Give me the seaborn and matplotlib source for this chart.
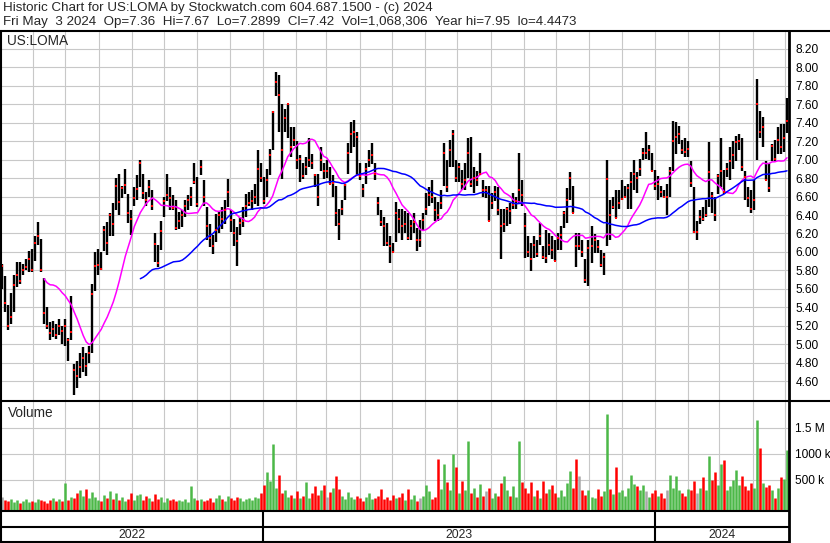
import numpy as np
import pandas as pd
import matplotlib
matplotlib.use("Agg")
import matplotlib.pyplot as plt
import matplotlib.dates as mdates
from matplotlib.lines import Line2D
import seaborn as sns

# ---- data (one bar per ~2 sessions) ----
highs = [
    5.87, 5.74, 5.42, 5.55, 5.75, 5.89, 5.89, 5.87, 5.92, 6.01,
    6.03, 6.17, 6.32, 6.14, 5.72, 5.40, 5.24, 5.25, 5.22, 5.27,
    5.20, 5.27, 5.07, 5.52, 4.78, 4.82, 4.90, 4.97, 4.90, 4.98,
    5.65, 6.00, 6.03, 6.00, 6.28, 6.32, 6.42, 6.53, 6.80, 6.85,
    6.72, 6.90, 6.63, 6.45, 6.70, 6.83, 7.00, 6.85, 6.65, 6.78,
    6.67, 6.20, 6.07, 6.33, 6.60, 6.85, 6.70, 6.62, 6.56, 6.43,
    6.45, 6.56, 6.62, 6.70, 6.96, 6.81, 7.00, 6.78, 6.49, 6.30,
    6.18, 6.41, 6.43, 6.49, 6.56, 6.79, 6.45, 6.36, 6.27, 6.38,
    6.49, 6.63, 6.65, 6.67, 6.74, 7.10, 6.96, 6.81, 6.90, 7.12,
    7.53, 7.95, 7.92, 7.60, 7.55, 7.60, 7.35, 7.35, 7.20, 7.05,
    6.96, 7.03, 7.24, 7.06, 6.85, 6.85, 7.14, 6.96, 7.00, 6.92,
    6.83, 6.71, 6.46, 6.56, 6.74, 7.18, 7.41, 7.43, 7.30, 6.96,
    6.74, 6.96, 7.10, 7.18, 6.96, 6.60, 6.45, 6.38, 6.31, 6.17,
    6.10, 6.54, 6.46, 6.46, 6.44, 6.42, 6.35, 6.42, 6.26, 6.35,
    6.42, 6.64, 6.70, 6.78, 6.60, 6.54, 6.67, 7.18, 7.00, 7.21,
    7.32, 7.00, 6.96, 6.89, 6.96, 7.23, 7.25, 6.92, 6.88, 7.07,
    6.78, 6.71, 6.71, 6.64, 6.72, 6.70, 6.46, 6.46, 6.49, 6.53,
    6.64, 6.60, 7.07, 6.78, 6.42, 6.17, 6.10, 6.17, 6.13, 6.31,
    6.06, 6.24, 6.20, 6.17, 6.13, 6.20, 6.28, 6.44, 6.69, 6.87,
    6.72, 6.20, 6.20, 6.13, 5.92, 6.13, 6.28, 6.19, 6.13, 6.02,
    5.99, 7.00, 6.56, 6.60, 6.67, 6.67, 6.78, 6.71, 6.74, 6.87,
    7.00, 6.87, 7.01, 7.13, 7.30, 7.16, 7.07, 6.89, 6.82, 6.71,
    6.67, 6.74, 6.92, 7.42, 7.41, 7.37, 7.21, 7.23, 7.20, 6.99,
    6.70, 6.33, 6.45, 6.49, 6.56, 7.19, 6.65, 6.60, 6.85, 7.24,
    6.89, 6.96, 7.14, 7.20, 7.26, 7.28, 7.24, 6.88, 6.70, 6.67,
    6.78, 7.87, 7.53, 7.46, 6.99, 6.96, 7.17, 7.21, 7.35, 7.39,
    7.39, 7.67,
]
lows = [
    5.60, 5.35, 5.15, 5.22, 5.35, 5.62, 5.65, 5.75, 5.80, 5.78,
    5.78, 5.90, 6.07, 5.78, 5.22, 5.16, 5.04, 5.08, 5.06, 5.10,
    5.00, 4.98, 4.82, 5.05, 4.45, 4.53, 4.63, 4.70, 4.66, 4.80,
    4.90, 5.58, 5.75, 5.80, 6.01, 5.97, 6.17, 6.17, 6.45, 6.40,
    6.58, 6.63, 6.31, 6.18, 6.50, 6.56, 6.70, 6.57, 6.50, 6.60,
    6.45, 5.89, 5.84, 6.02, 6.38, 6.55, 6.45, 6.45, 6.24, 6.25,
    6.27, 6.38, 6.45, 6.50, 6.74, 6.49, 6.83, 6.50, 6.13, 6.05,
    5.98, 6.11, 6.20, 6.25, 6.30, 6.49, 6.22, 6.06, 5.85, 6.18,
    6.27, 6.38, 6.50, 6.45, 6.52, 6.50, 6.76, 6.52, 6.60, 6.83,
    7.10, 7.69, 7.30, 6.79, 7.30, 7.24, 7.03, 7.15, 6.90, 6.76,
    6.79, 6.83, 6.92, 6.90, 6.70, 6.50, 6.88, 6.79, 6.80, 6.74,
    6.60, 6.28, 6.13, 6.40, 6.56, 6.85, 7.07, 7.14, 6.83, 6.78,
    6.60, 6.74, 6.92, 6.95, 6.78, 6.40, 6.28, 6.06, 6.06, 5.88,
    6.00, 6.11, 6.20, 6.13, 6.20, 6.13, 6.13, 6.20, 6.01, 6.05,
    6.24, 6.40, 6.50, 6.53, 6.33, 6.33, 6.46, 6.71, 6.65, 6.92,
    6.92, 6.76, 6.76, 6.67, 6.67, 6.80, 6.70, 6.64, 6.72, 6.85,
    6.60, 6.58, 6.33, 6.46, 6.55, 6.40, 5.92, 6.22, 6.28, 6.30,
    6.46, 6.46, 6.53, 6.50, 5.93, 5.95, 5.79, 5.93, 5.95, 6.08,
    5.92, 5.88, 5.97, 5.92, 5.90, 6.02, 6.02, 6.26, 6.31, 6.56,
    6.42, 5.84, 6.02, 5.95, 5.66, 5.63, 5.88, 5.99, 5.99, 5.84,
    5.75, 6.06, 6.13, 6.46, 6.37, 6.46, 6.56, 6.60, 6.46, 6.46,
    6.67, 6.64, 6.82, 7.00, 7.01, 7.00, 6.88, 6.67, 6.56, 6.60,
    6.60, 6.40, 6.60, 6.88, 7.06, 7.17, 7.06, 7.03, 7.03, 6.70,
    6.20, 6.13, 6.30, 6.34, 6.38, 6.49, 6.42, 6.33, 6.63, 6.70,
    6.63, 6.81, 6.78, 6.90, 6.99, 7.10, 6.88, 6.56, 6.49, 6.42,
    6.45, 7.00, 7.24, 7.14, 6.78, 6.65, 6.99, 6.99, 7.06, 7.06,
    7.08, 7.29,
]
closes = [
    5.85, 5.45, 5.20, 5.30, 5.64, 5.75, 5.68, 5.80, 5.84, 5.92,
    5.80, 6.10, 6.17, 5.80, 5.34, 5.20, 5.12, 5.16, 5.10, 5.20,
    5.14, 5.20, 5.05, 5.13, 4.72, 4.65, 4.75, 4.85, 4.76, 4.90,
    5.54, 5.85, 5.86, 5.82, 6.24, 6.10, 6.40, 6.30, 6.72, 6.54,
    6.69, 6.73, 6.42, 6.36, 6.58, 6.68, 6.96, 6.64, 6.56, 6.70,
    6.50, 6.09, 5.88, 6.23, 6.55, 6.62, 6.58, 6.48, 6.26, 6.34,
    6.40, 6.50, 6.56, 6.60, 6.76, 6.52, 6.92, 6.60, 6.28, 6.15,
    6.06, 6.24, 6.40, 6.36, 6.45, 6.65, 6.35, 6.20, 6.12, 6.31,
    6.34, 6.50, 6.53, 6.55, 6.60, 6.90, 6.80, 6.55, 6.78, 7.05,
    7.52, 7.84, 7.70, 7.11, 7.45, 7.60, 7.14, 7.21, 7.00, 7.01,
    6.82, 6.92, 7.00, 6.96, 6.83, 6.60, 7.00, 6.88, 6.88, 6.74,
    6.75, 6.42, 6.30, 6.47, 6.73, 7.07, 7.28, 7.30, 7.25, 6.82,
    6.68, 6.90, 7.00, 7.05, 6.85, 6.53, 6.32, 6.28, 6.10, 6.06,
    6.00, 6.42, 6.36, 6.28, 6.30, 6.15, 6.28, 6.32, 6.13, 6.13,
    6.35, 6.46, 6.62, 6.60, 6.45, 6.40, 6.53, 7.07, 6.70, 7.10,
    7.28, 6.80, 6.92, 6.74, 6.78, 7.07, 6.74, 6.80, 6.78, 6.85,
    6.67, 6.67, 6.33, 6.53, 6.65, 6.45, 6.28, 6.30, 6.46, 6.44,
    6.51, 6.55, 6.67, 6.62, 6.28, 6.00, 5.92, 6.08, 5.98, 6.17,
    5.95, 5.93, 6.08, 6.02, 5.90, 6.15, 6.18, 6.42, 6.56, 6.80,
    6.42, 6.06, 6.06, 6.00, 5.70, 6.04, 6.06, 6.13, 6.05, 5.86,
    5.94, 6.79, 6.40, 6.49, 6.37, 6.53, 6.57, 6.60, 6.69, 6.76,
    6.85, 6.80, 6.90, 7.07, 7.07, 7.10, 6.88, 6.72, 6.74, 6.65,
    6.60, 6.60, 6.88, 7.20, 7.25, 7.28, 7.10, 7.08, 7.12, 6.75,
    6.22, 6.22, 6.38, 6.36, 6.40, 6.87, 6.61, 6.40, 6.82, 6.88,
    6.65, 6.90, 6.99, 7.05, 7.19, 7.20, 6.92, 6.81, 6.58, 6.47,
    6.56, 7.60, 7.30, 7.35, 6.78, 6.69, 7.15, 7.01, 7.21, 7.14,
    7.24, 7.42,
]
volume_k = [
    180, 120, 90, 140, 70, 110, 60, 90, 130, 80,
    100, 70, 140, 120, 90, 60, 110, 150, 90, 130,
    100, 450, 120, 180, 150, 240, 310, 200, 330, 150,
    260, 170, 120, 100, 210, 160, 280, 130, 250, 110,
    170, 90, 140, 250, 120, 210, 230, 110, 190, 150,
    100, 230, 130, 170, 80, 150, 120, 140, 90, 110,
    100, 130, 80, 390, 160, 110, 140, 90, 120, 150,
    80, 160, 210, 130, 100, 190, 150, 110, 170, 150,
    90, 140, 160, 120, 180, 150, 250, 400, 650, 480,
    1200, 350, 600, 250, 300, 180, 220, 150, 280, 160,
    200, 470, 150, 240, 380, 220, 300, 400, 180, 260,
    350, 580, 320, 200, 140, 260, 180, 130, 200, 150,
    100, 180, 240, 130, 160, 200, 320, 130, 180, 110,
    220, 150, 170, 240, 110, 330, 140, 210, 100, 160,
    200, 400, 290, 130, 170, 900, 330, 800, 460, 300,
    990, 750, 250, 480, 300, 1250, 250, 350, 180, 420,
    200, 280, 350, 150, 250, 200, 450, 570, 300, 200,
    380, 180, 1250, 460, 350, 250, 460, 200, 300, 160,
    480, 250, 330, 400, 250, 180, 300, 200, 450, 680,
    350, 910, 580, 300, 220, 300, 180, 150, 330, 200,
    280, 1770, 320, 230, 750, 260, 300, 200, 350, 590,
    420, 380, 300, 410, 280, 180, 250, 300, 200, 250,
    150, 300, 600, 350, 580, 300, 250, 200, 320, 300,
    480, 250, 350, 560, 300, 970, 500, 650, 400, 800,
    880, 300, 380, 500, 700, 400, 580, 380, 300, 450,
    350, 1650, 1120, 450, 360, 400, 300, 160, 350, 550,
    520, 1068,
]
price_ticks = [4.60, 4.80, 5.00, 5.20, 5.40, 5.60, 5.80, 6.00, 6.20, 6.40,
               6.60, 6.80, 7.00, 7.20, 7.40, 7.60, 7.80, 8.00, 8.20]
vol_ticks = [500e3, 1000e3, 1500e3]
vol_labels = ["500 k", "1000 k", "1.5 M"]
years = ["2022", "2023", "2024"]

header1 = "Historic Chart for US:LOMA by Stockwatch.com 604.687.1500 - (c) 2024"
header2 = ("Fri May  3 2024  Op=7.36  Hi=7.67  Lo=7.2899  Cl=7.42  "
           "Vol=1,068,306  Year hi=7.95  lo=4.4473")

dates = pd.date_range("2022-05-03", "2024-05-03", periods=len(closes))
df = pd.DataFrame({"date": dates, "high": highs, "low": lows,
                   "close": closes, "volume": np.array(volume_k) * 1000.0})
df["ma_short"] = df["close"].rolling(15).mean()
df["ma_long"] = df["close"].rolling(47).mean()

GREEN, RED, GRAY = "#4cb848", "#ff0000", "#a8a8a8"
chg = df["close"].diff()
df["vcolor"] = np.where(chg > 0, GREEN, np.where(chg < 0, RED, GRAY))

sns.set_style("white")
plt.rcParams["font.family"] = ["Liberation Sans", "DejaVu Sans"]

W, H = 830, 543
fig = plt.figure(figsize=(W / 100, H / 100), dpi=100)


def rect(x0, y0, x1, y1):
    return [x0 / W, 1 - y1 / H, (x1 - x0) / W, (y1 - y0) / H]


def fline(xs, ys, lw=1.5):
    fig.add_artist(Line2D([x / W for x in xs], [1 - y / H for y in ys],
                          color="black", lw=lw, transform=fig.transFigure))


xlo = dates[0] - pd.Timedelta(days=0.93)
xhi = dates[-1] + pd.Timedelta(days=1.86)
GRID = "#c8c8c8"

# price panel
axp = fig.add_axes(rect(1, 32, 789, 400))
axp.set_axisbelow(True)
axp.vlines(df["date"], df["low"], df["high"], color="black", lw=1.7, zorder=2)
axp.plot(df["date"], df["close"], ls="none", marker="s", ms=1.7, mew=0,
         color="red", zorder=4)
sns.lineplot(data=df.dropna(subset=["ma_short"]), x="date", y="ma_short",
             ax=axp, color="#ff00ff", lw=1.1, estimator=None, zorder=3)
sns.lineplot(data=df.dropna(subset=["ma_long"]), x="date", y="ma_long",
             ax=axp, color="#0000ff", lw=1.1, estimator=None, zorder=3)
axp.set_xlim(xlo, xhi)
axp.set_ylim(4.395, 8.384)
axp.set_yticks(price_ticks, [f"{t:.2f}" for t in price_ticks])
axp.yaxis.tick_right()
axp.xaxis.set_major_locator(mdates.MonthLocator())
axp.tick_params(axis="x", bottom=False, labelbottom=False)
axp.tick_params(axis="y", length=0, pad=4.5, labelsize=8.6, colors="black")
axp.grid(True, color=GRID, lw=0.8)
axp.set_xlabel("")
axp.set_ylabel("")
for s in axp.spines.values():
    s.set_visible(False)
axp.text(0.007, 0.975, "US:LOMA", transform=axp.transAxes, fontsize=9.8,
         va="center", ha="left")

# volume panel
vfloor = -78e3
axv = fig.add_axes(rect(1, 402, 789, 510))
axv.set_axisbelow(True)
axv.vlines(df["date"], vfloor, df["volume"], colors=df["vcolor"], lw=1.8)
axv.set_xlim(xlo, xhi)
axv.set_ylim(vfloor, 2.0e6)
axv.set_yticks(vol_ticks, vol_labels)
axv.yaxis.tick_right()
axv.xaxis.set_major_locator(mdates.MonthLocator())
axv.tick_params(axis="x", bottom=False, labelbottom=False)
axv.tick_params(axis="y", length=0, pad=4, labelsize=8.6, colors="black")
axv.grid(True, color=GRID, lw=0.8)
for s in axv.spines.values():
    s.set_visible(False)
axv.text(0.009, 0.9, "Volume", transform=axv.transAxes, fontsize=9.8,
         va="center", ha="left")

# date band with year labels
axb = fig.add_axes(rect(1, 511, 789, 542))
axb.set_xlim(xlo, xhi)
axb.set_ylim(0, 1)
axb.axis("off")
bounds = [xlo, pd.Timestamp("2023-01-01"), pd.Timestamp("2024-01-01"), xhi]
for b in bounds[1:-1]:
    axb.axvline(b, color="black", lw=1.5)
for i, yr in enumerate(years):
    mid = bounds[i] + (bounds[i + 1] - bounds[i]) / 2
    axb.text(mid, 0.24, yr, ha="center", va="center", fontsize=8.8)

# frame
fline([0, 830], [31, 31])
fline([0, 830], [401, 401])
fline([0, 789], [510.5, 510.5])
fline([0, 789], [527, 527])
fline([0, 789], [542, 542])
fline([0.75, 0.75], [31, 543])
fline([789, 789], [31, 543], lw=2)

fig.text(3 / W, 1 - 8 / H, header1, fontsize=9.6, va="center", ha="left")
fig.text(3 / W, 1 - 22 / H, header2, fontsize=9.6, va="center", ha="left")

fig.savefig("out.png", dpi=100)
